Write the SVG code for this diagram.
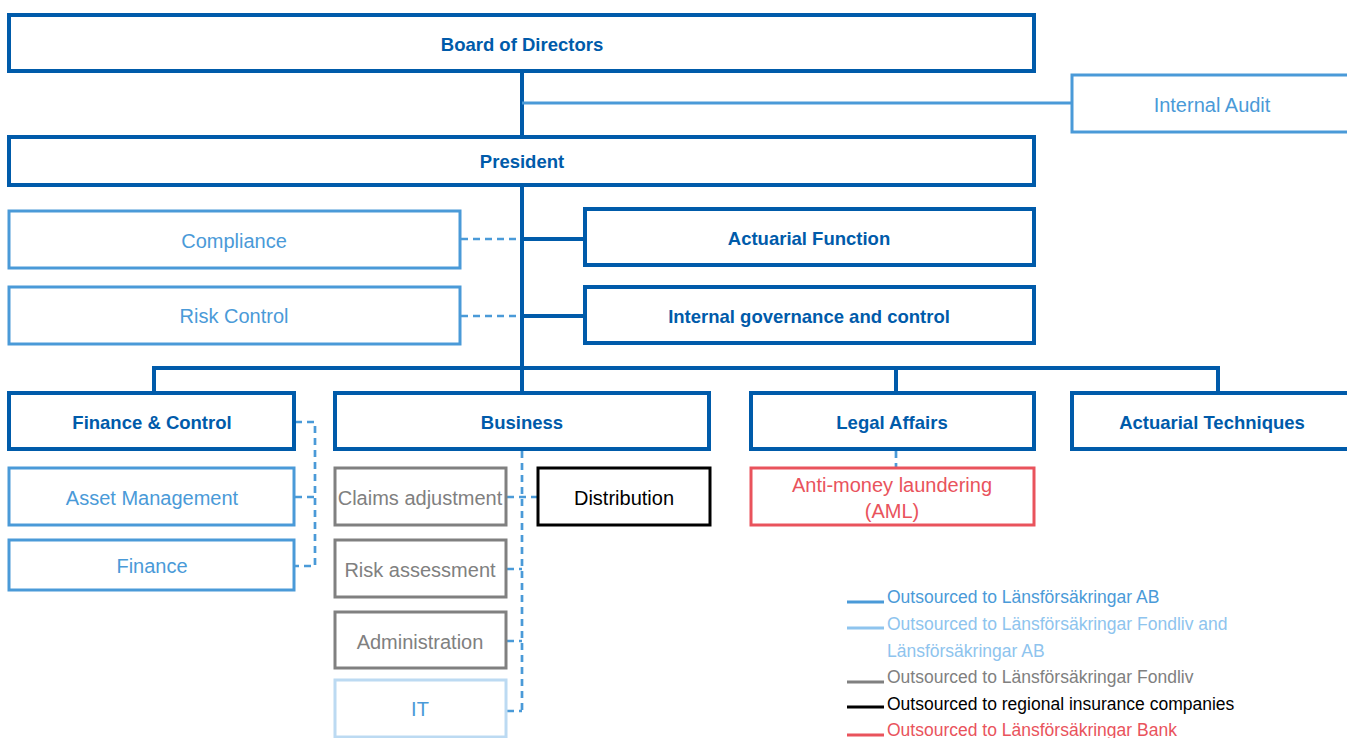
<svg xmlns="http://www.w3.org/2000/svg" width="1347" height="738" viewBox="0 0 1347 738">
<style>
  text { font-family: "Liberation Sans", Arial, sans-serif; text-anchor: middle; }
  .main rect { fill: #fff; stroke: #005BAA; stroke-width: 4; }
  .main text { fill: #005BAA; font-weight: bold; font-size: 18.5px; }
  .lfab rect { fill: #fff; stroke: #4A9AD8; stroke-width: 3; }
  .lfab text { fill: #4A9AD8; font-size: 20px; }
  .fond rect { fill: #fff; stroke: #808080; stroke-width: 3; }
  .fond text { fill: #808080; font-size: 20px; }
  .both rect { fill: #fff; stroke: #BCDAF2; stroke-width: 3; }
  .both text { fill: #4A9AD8; font-size: 20px; }
  .reg rect { fill: #fff; stroke: #000; stroke-width: 3; }
  .reg text { fill: #000; font-size: 20px; }
  .bank rect { fill: #fff; stroke: #E9535C; stroke-width: 3; }
  .bank text { fill: #E9535C; font-size: 20px; }
  .solid { stroke: #005BAA; stroke-width: 4; fill: none; }
  .thin { stroke: #4A9AD8; stroke-width: 3; fill: none; }
  .dash { stroke: #4A9AD8; stroke-width: 2.7; fill: none; stroke-dasharray: 7 5; }
  .legend text { text-anchor: start; font-size: 17.5px; }
  .legend line { stroke-width: 3; }
</style>

<g id="connectors">
  <line class="solid" x1="522" y1="71" x2="522" y2="368"/>
  <line class="thin" x1="522" y1="103" x2="1072" y2="103"/>
  <line class="solid" x1="522" y1="239" x2="585" y2="239"/>
  <line class="solid" x1="522" y1="316" x2="585" y2="316"/>
  <line class="dash" x1="461" y1="239" x2="520" y2="239"/>
  <line class="dash" x1="461" y1="316" x2="520" y2="316"/>
  <polyline class="solid" points="154,393 154,368 1218,368 1218,393"/>
  <line class="solid" x1="522" y1="366" x2="522" y2="393"/>
  <line class="solid" x1="896" y1="368" x2="896" y2="393"/>
  <polyline class="dash" points="295,422 315,422 315,566 295,566"/>
  <line class="dash" x1="295" y1="497" x2="315" y2="497"/>
  <line class="dash" x1="522" y1="451" x2="522" y2="711"/>
  <line class="dash" x1="507" y1="711" x2="522" y2="711"/>
  <line class="dash" x1="507" y1="497" x2="538" y2="497"/>
  <line class="dash" x1="507" y1="569" x2="522" y2="569"/>
  <line class="dash" x1="507" y1="641" x2="522" y2="641"/>
  <line class="dash" x1="896" y1="451" x2="896" y2="468"/>
</g>

<g id="board" class="main"><rect x="9" y="15" width="1025" height="56"/><text x="522" y="51">Board of Directors</text></g>
<g id="internal-audit" class="lfab"><rect x="1072" y="75" width="290" height="57"/><text x="1212" y="112">Internal Audit</text></g>
<g id="president" class="main"><rect x="9" y="137" width="1025" height="48"/><text x="522" y="168">President</text></g>
<g id="compliance" class="lfab"><rect x="9" y="211" width="451" height="57"/><text x="234" y="248">Compliance</text></g>
<g id="actuarial-function" class="main"><rect x="585" y="209" width="449" height="56"/><text x="809" y="245">Actuarial Function</text></g>
<g id="risk-control" class="lfab"><rect x="9" y="287" width="451" height="57"/><text x="234" y="323">Risk Control</text></g>
<g id="governance" class="main"><rect x="585" y="287" width="449" height="56"/><text x="809" y="323">Internal governance and control</text></g>
<g id="finance-control" class="main"><rect x="9" y="393" width="285" height="56"/><text x="152" y="429">Finance &amp; Control</text></g>
<g id="business" class="main"><rect x="335" y="393" width="374" height="56"/><text x="522" y="429">Business</text></g>
<g id="legal-affairs" class="main"><rect x="751" y="393" width="283" height="56"/><text x="892" y="429">Legal Affairs</text></g>
<g id="actuarial-techniques" class="main"><rect x="1072" y="393" width="290" height="56"/><text x="1212" y="429">Actuarial Techniques</text></g>
<g id="asset-management" class="lfab"><rect x="9" y="468" width="285" height="57"/><text x="152" y="505">Asset Management</text></g>
<g id="finance" class="lfab"><rect x="9" y="540" width="285" height="50"/><text x="152" y="573">Finance</text></g>
<g id="claims" class="fond"><rect x="335" y="468" width="171" height="57"/><text x="420" y="505">Claims adjustment</text></g>
<g id="distribution" class="reg"><rect x="538" y="468" width="172" height="57"/><text x="624" y="505">Distribution</text></g>
<g id="risk-assessment" class="fond"><rect x="335" y="540" width="171" height="57"/><text x="420" y="577">Risk assessment</text></g>
<g id="administration" class="fond"><rect x="335" y="612" width="171" height="56"/><text x="420" y="649">Administration</text></g>
<g id="it" class="both"><rect x="335" y="680" width="171" height="57"/><text x="420" y="716">IT</text></g>
<g id="aml" class="bank"><rect x="751" y="468" width="283" height="57"/><text x="892" y="492">Anti-money laundering</text><text x="892" y="518">(AML)</text></g>

<g id="legend" class="legend">
  <line x1="847" y1="602" x2="884" y2="602" stroke="#4A9AD8"/>
  <text x="887" y="603" fill="#4A9AD8">Outsourced to Länsförsäkringar AB</text>
  <line x1="847" y1="628" x2="884" y2="628" stroke="#8EC4EE"/>
  <text x="887" y="630" fill="#8EC4EE">Outsourced to Länsförsäkringar Fondliv and</text>
  <text x="887" y="657" fill="#8EC4EE">Länsförsäkringar AB</text>
  <line x1="847" y1="682" x2="884" y2="682" stroke="#808080"/>
  <text x="887" y="683" fill="#808080">Outsourced to Länsförsäkringar Fondliv</text>
  <line x1="847" y1="707" x2="884" y2="707" stroke="#000"/>
  <text x="887" y="710" fill="#000">Outsourced to regional insurance companies</text>
  <line x1="847" y1="735" x2="884" y2="735" stroke="#E9535C"/>
  <text x="887" y="736" fill="#E9535C">Outsourced to Länsförsäkringar Bank</text>
</g>
</svg>
